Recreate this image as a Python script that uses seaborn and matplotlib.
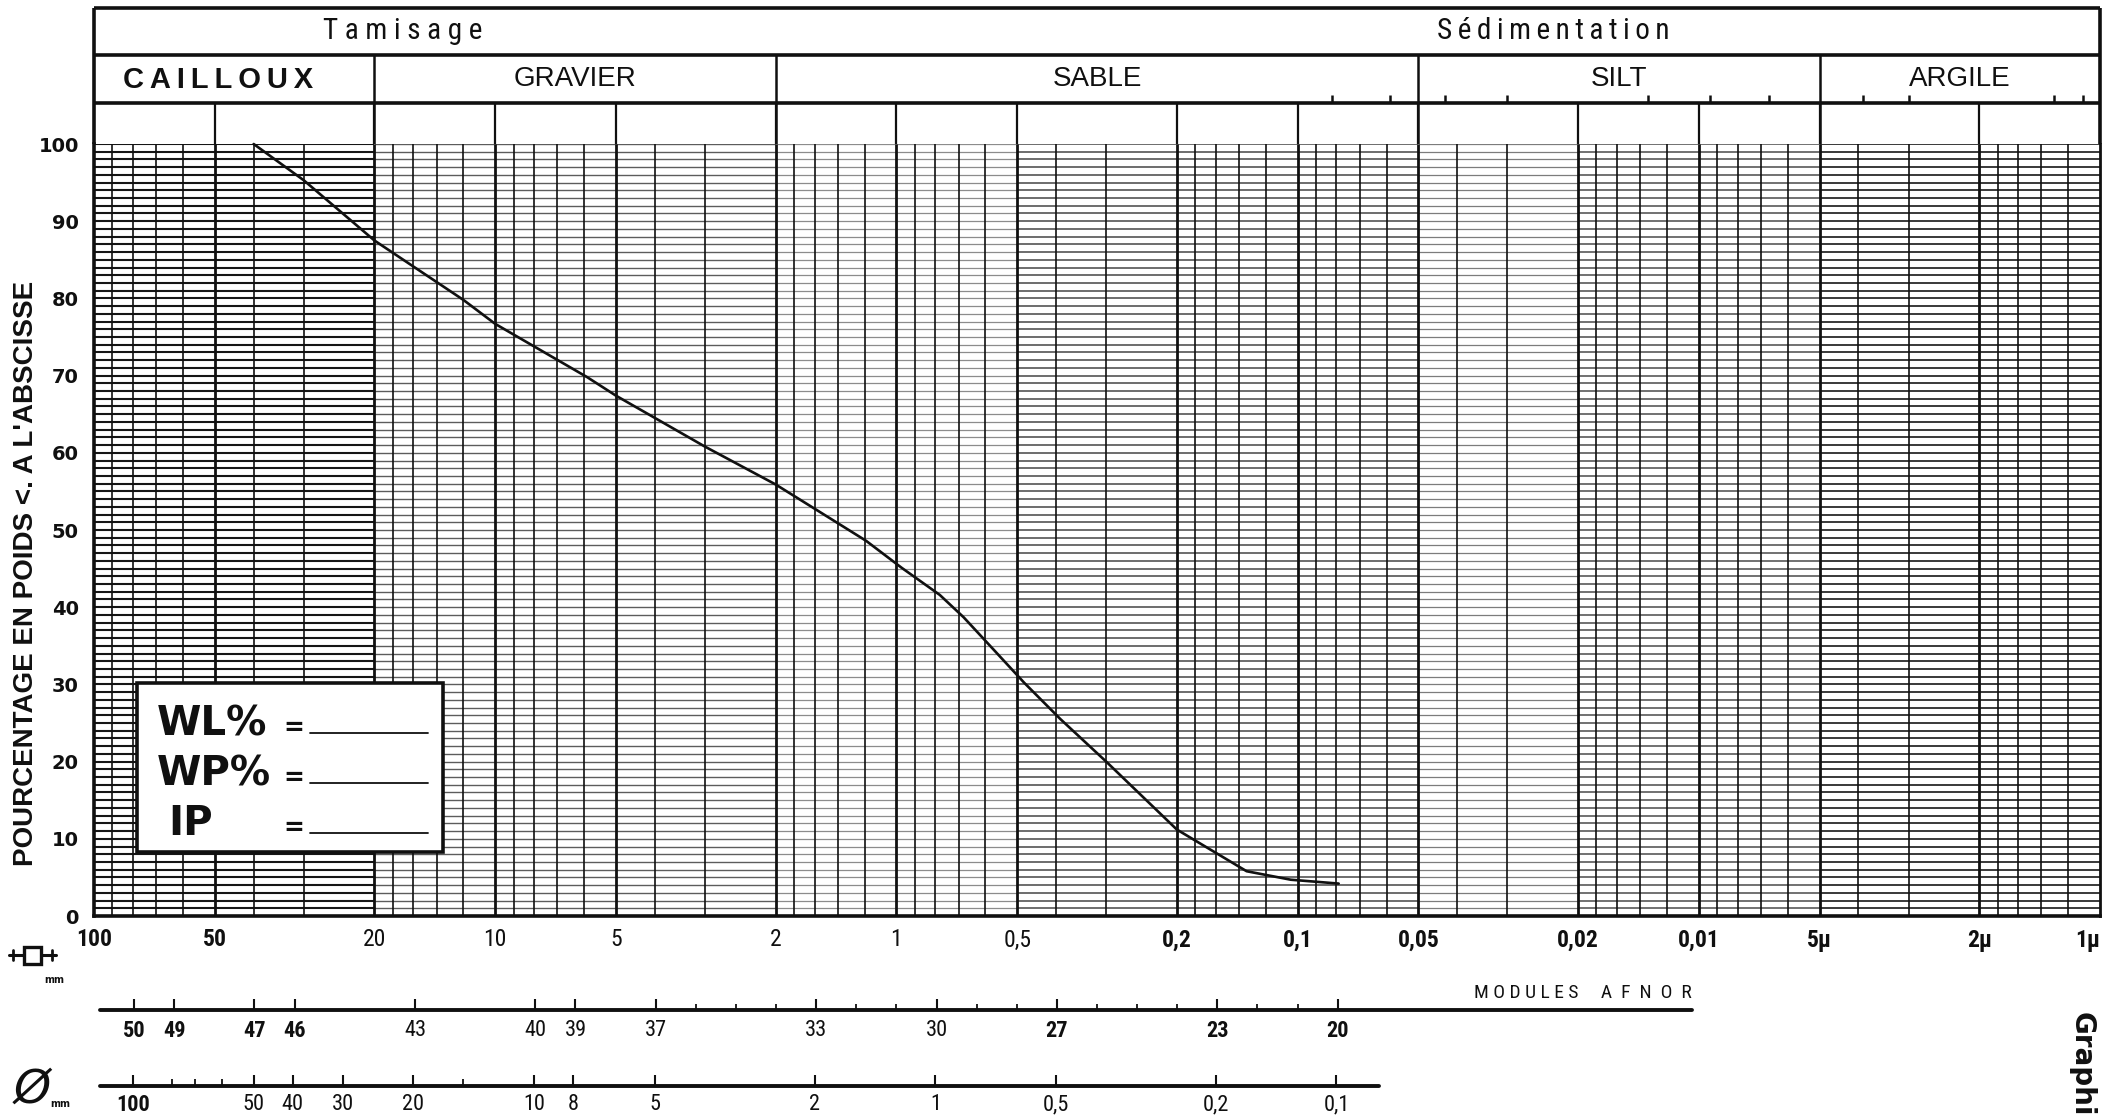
import matplotlib
matplotlib.use("Agg")
import matplotlib.pyplot as plt
from matplotlib import font_manager
from matplotlib.patches import Rectangle
from matplotlib.ticker import NullLocator
import numpy as np
import pandas as pd
import seaborn as sns

# ---------------------------------------------------------------- data
# cumulative percentage passing vs. particle size (mm)
grain_size_mm = [40, 30, 20, 12, 10, 5.9, 5, 3, 2, 1.57, 1.19, 0.97, 0.78,
                 0.68, 0.57, 0.48, 0.39, 0.3, 0.2, 0.134, 0.104, 0.079]
passing_pct = [100, 95.3, 87.5, 79.8, 76.7, 69.8, 67.4, 60.8, 55.9, 52.5,
               48.6, 45.1, 41.6, 38.7, 34.4, 30.2, 25.5, 20.0, 11.2,
               5.8, 4.7, 4.2]

pct_ticks = [0, 10, 20, 30, 40, 50, 60, 70, 80, 90, 100]
size_ticks = [100, 50, 20, 10, 5, 2, 1, 0.5, 0.2, 0.1, 0.05, 0.02, 0.01,
              0.005, 0.002, 0.001]
size_tick_labels = ["100", "50", "20", "10", "5", "2", "1", "0,5", "0,2",
                    "0,1", "0,05", "0,02", "0,01", "5µ", "2µ", "1µ"]

class_names = ["CAILLOUX", "GRAVIER", "SABLE", "SILT", "ARGILE"]
class_limits_mm = [100, 20, 2, 0.05, 0.005, 0.001]
method_names = ["Tamisage", "Sédimentation"]

sedimentation_marks_mm = [0.082, 0.059, 0.043, 0.030, 0.0134, 0.0094,
                          0.0067, 0.0039, 0.0030, 0.0013, 0.0011]

afnor_modules = [50, 49, 47, 46, 43, 40, 39, 37, 33, 30, 27, 23, 20]
afnor_minor_modules = [36, 35, 34, 32, 31, 29, 28, 26, 25, 24, 22, 21]

round_hole_mm = [100, 50, 40, 30, 20, 10, 8, 5, 2, 1, 0.5, 0.2, 0.1]
round_hole_labels = ["100", "50", "40", "30", "20", "10", "8", "5", "2",
                     "1", "0,5", "0,2", "0,1"]
round_hole_minor_mm = [80, 70, 60, 15]

atterberg_labels = ["WL%", "WP%", "IP"]

# ---------------------------------------------------------------- style
sns.set_theme(style="white")
plt.rcParams["font.family"] = ["DejaVu Sans"]
available = {f.name for f in font_manager.fontManager.ttflist}


def pick(*names):
    for n in names:
        if n in available:
            return n
    return "DejaVu Sans"


NARROW = pick("Liberation Sans Narrow", "DejaVu Sans Condensed",
              "Roboto Condensed", "Liberation Sans")
SANS = pick("Liberation Sans", "DejaVu Sans")
INK = "#101010"

W, H = 2103, 1116
fig = plt.figure(figsize=(W / 100, H / 100), dpi=100)
fig.patch.set_facecolor("white")

X0, X1 = 94, 2100          # pixel extent of the size axis
Y100, Y0 = 144, 916        # pixel rows of 100 % and 0 %


def fx(p):
    return p / W


def fy(p):
    return 1 - p / H


# ---------------------------------------------------------------- main grid
ax = fig.add_axes([fx(X0), fy(Y0), (X1 - X0) / W, (Y0 - Y100) / H])
ax.set_xscale("log")
ax.set_xlim(class_limits_mm[0], class_limits_mm[-1])
ax.set_ylim(0, 100)
ax.set_facecolor("white")

# horizontal 1 % rulings, inked more or less heavily across the sheet
h_bands = [(100, 20, "#151515", 1.5), (20, 2, "#5c5c5c", 1.0),
           (2, 0.5, "#8c8c8c", 0.9), (0.5, 0.05, "#454545", 1.1),
           (0.05, 0.02, "#7c7c7c", 0.9), (0.02, 0.005, "#4a4a4a", 1.1),
           (0.005, 0.001, "#2a2a2a", 1.3)]
levels = np.arange(1, 101)
for a, b, c, lw in h_bands:
    ax.hlines(levels, a, b, colors=c, lw=lw, zorder=1)

# vertical log rulings
mults = [1, 1.2, 1.4, 1.6, 1.8, 2, 3, 4, 5, 6, 7, 8, 9]
major_v, minor_v = [], []
for dec in [10, 1, 0.1, 0.01, 0.001]:
    for m in mults:
        v = round(m * dec, 6)
        if v >= 100 or v <= 0.001:
            continue
        (major_v if m in (1, 2, 5) else minor_v).append(v)
ax.vlines(minor_v, 0, 100, colors=INK, lw=1.2, zorder=2)
ax.vlines(major_v, 0, 100, colors=INK, lw=2.0, zorder=2)

curve = pd.DataFrame({"size": grain_size_mm, "passing": passing_pct})
sns.lineplot(data=curve, x="size", y="passing", ax=ax, color=INK, lw=1.9,
             estimator=None, sort=False, zorder=4, clip_on=False)
ax.set_xlabel("")
ax.set_ylabel("")

for s in ["left", "bottom"]:
    ax.spines[s].set_color(INK)
    ax.spines[s].set_linewidth(2.6)
ax.spines["right"].set_color(INK)
ax.spines["right"].set_linewidth(2.0)
ax.spines["top"].set_visible(False)

ax.set_xticks(size_ticks, size_tick_labels)
ax.xaxis.set_minor_locator(NullLocator())
ax.tick_params(axis="x", length=0, pad=9, labelsize=17, colors=INK)
bold_x = {"100", "50", "0,2", "0,1", "0,05", "0,02", "0,01", "5µ", "2µ", "1µ"}
for t in ax.get_xticklabels():
    t.set_family([NARROW, "DejaVu Sans"])
    if t.get_text() in bold_x:
        t.set_weight("bold")
    if t.get_text() == "1µ":
        t.set_horizontalalignment("right")
ax.set_yticks(pct_ticks, [str(v) for v in pct_ticks])
ax.yaxis.set_minor_locator(NullLocator())
ax.tick_params(axis="y", length=0, pad=11, labelsize=14, colors=INK)
for t in ax.get_yticklabels():
    t.set_weight("bold")

# ---------------------------------------------------------------- header
hax = fig.add_axes([fx(X0), fy(Y100), (X1 - X0) / W, (Y100 - 8) / H],
                   sharex=ax)
hax.set_ylim(Y100, 8)
hax.axis("off")
left, right = class_limits_mm[0], class_limits_mm[-1]
hax.hlines([8, 55, 103], left, right, colors=INK, lw=2.6, clip_on=False)
hax.vlines([left, right], 8, Y100, colors=INK, lw=2.6, clip_on=False)
hax.vlines(class_limits_mm[1:-1], 55, Y100, colors=INK, lw=1.8)
hax.vlines([v for v in major_v if v < 50.1], 103, Y100, colors=INK, lw=1.6)
hax.vlines(sedimentation_marks_mm, 95, 103, colors=INK, lw=1.8)

hax.text(17, 31, " ".join(method_names[0]), ha="center", va="center",
         fontsize=21, family=[NARROW, "DejaVu Sans"], color=INK)
hax.text(0.023, 31, "\u2009".join(method_names[1]), ha="center",
         va="center", fontsize=21, family=[NARROW, "DejaVu Sans"], color=INK)
for i, name in enumerate(class_names):
    cx = np.sqrt(class_limits_mm[i] * class_limits_mm[i + 1])
    if name == "CAILLOUX":
        hax.text(cx * 1.1, 80, "\u2009".join(name), ha="center",
                 va="center", fontsize=21, family=[SANS, "DejaVu Sans"],
                 color=INK, weight="bold")
    else:
        hax.text(cx, 79, name, ha="center", va="center", fontsize=20,
                 family=[SANS, "DejaVu Sans"], color=INK)

# ---------------------------------------------------------------- lower scales
sax = fig.add_axes([fx(X0), 0, (X1 - X0) / W, fy(930)], sharex=ax)
sax.set_ylim(H, 930)
sax.axis("off")


def module_to_mm(m):
    return 10 ** ((m - 1) / 10) / 1000


# AFNOR modules
y_af = 1010
sax.plot([96.6, 0.0104], [y_af, y_af], color=INK, lw=2.8, clip_on=False)
sax.vlines([module_to_mm(m) for m in afnor_modules], y_af - 11, y_af,
           colors=INK, lw=1.5)
sax.vlines([module_to_mm(m) for m in afnor_minor_modules], y_af - 6, y_af,
           colors=INK, lw=1.3)
bold_af = {50, 49, 47, 46, 27, 23, 20}
for m in afnor_modules:
    sax.text(module_to_mm(m), y_af + 10, str(m), ha="center", va="top",
             fontsize=16, family=[NARROW, "DejaVu Sans"], color=INK,
             weight="bold" if m in bold_af else "normal")
sax.text(0.0104, y_af - 8, "M O D U L E S     A  F  N  O  R", ha="right",
         va="bottom", fontsize=14, family=[NARROW, "DejaVu Sans"], color=INK)

# round-hole sieve diameters (equivalent square opening = D / 1.25)
y_rh = 1086
sax.plot([96.6, 0.0625], [y_rh, y_rh], color=INK, lw=2.8, clip_on=False)
sax.vlines([d / 1.25 for d in round_hole_mm], y_rh - 11, y_rh, colors=INK,
           lw=1.5)
sax.vlines([d / 1.25 for d in round_hole_minor_mm], y_rh - 7, y_rh,
           colors=INK, lw=1.3)
for d, lab in zip(round_hole_mm, round_hole_labels):
    sax.text(d / 1.25, y_rh + 8, lab, ha="center", va="top", fontsize=16,
             family=[NARROW, "DejaVu Sans"], color=INK,
             weight="bold" if lab == "100" else "normal")

# ---------------------------------------------------------------- overlay
oax = fig.add_axes([0, 0, 1, 1])
oax.set_xlim(0, W)
oax.set_ylim(H, 0)
oax.axis("off")
oax.set_zorder(10)

oax.text(26, 573, "POURCENTAGE EN POIDS <. A L'ABSCISSE", rotation=90,
         ha="center", va="center", fontsize=20, weight="bold",
         family=[SANS, "DejaVu Sans"], color=INK)

# plasticity box
oax.add_patch(Rectangle((137, 683), 306, 169, facecolor="white",
                        edgecolor=INK, lw=2.6, zorder=5))
for i, lab in enumerate(atterberg_labels):
    yb = 735 + 50 * i
    oax.text(157 if lab != "IP" else 168, yb, lab, ha="left",
             va="baseline", fontsize=29, weight="bold", color=INK, zorder=6)
    oax.text(283, yb, "=", ha="left", va="baseline", fontsize=18,
             weight="bold", color=INK, zorder=6)
    oax.plot([310, 428], [yb - 2, yb - 2], color=INK, lw=1.3, zorder=6)

# square-mesh sieve symbol
oax.add_patch(Rectangle((24, 947), 17, 17, facecolor="none", edgecolor=INK,
                        lw=2.4))
oax.plot([9, 24], [955, 955], color=INK, lw=2.2)
oax.plot([41, 56], [955, 955], color=INK, lw=2.2)
oax.plot([13, 13], [950, 960], color=INK, lw=2)
oax.plot([52, 52], [950, 960], color=INK, lw=2)
oax.text(44, 980, "mm", ha="left", va="center", fontsize=7, weight="bold",
         color=INK)

# round-hole sieve symbol
oax.text(32, 1090, "Ø", ha="center", va="center", fontsize=34,
         style="italic", color=INK)
oax.text(50, 1104, "mm", ha="left", va="center", fontsize=7, weight="bold",
         color=INK)

oax.text(2082, 1012, "Graphique", rotation=-90, ha="center", va="top",
         fontsize=20, weight="bold", color=INK)

fig.savefig("out.png", dpi=100, facecolor="white")
